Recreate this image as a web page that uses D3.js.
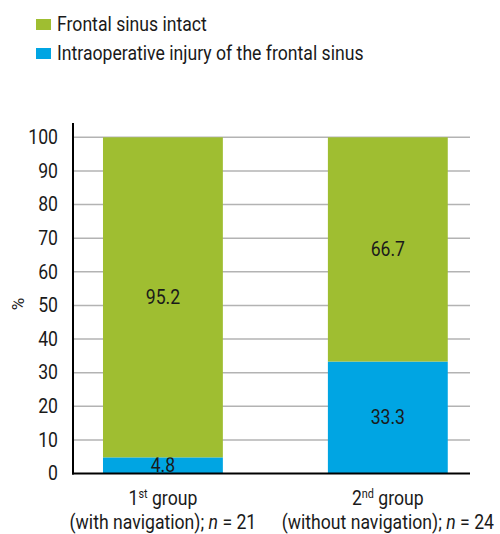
<!DOCTYPE html>
<html>
<head>
<meta charset="utf-8">
<script src="https://cdn.jsdelivr.net/npm/d3@7/dist/d3.min.js"></script>
<style>
  html, body { margin: 0; padding: 0; background: #fff; }
  svg { display: block; }
  text { font-family: "Roboto", "DejaVu Sans Condensed", sans-serif; fill: #1a1a1a; }
</style>
</head>
<body>
<svg id="chart" width="500" height="534"></svg>
<script>
const groups = ["1st", "2nd"];
const groupSub = ["(with navigation); ", "(without navigation); "];
const groupN = ["21", "24"];
const seriesNames = ["Frontal sinus intact", "Intraoperative injury of the frontal sinus"];
const intact = [95.2, 66.7];
const injury = [4.8, 33.3];
const yTicks = [0, 10, 20, 30, 40, 50, 60, 70, 80, 90, 100];
const colors = ["#9fbe31", "#00a5e3"];

const svg = d3.select("#chart");
const fontSize = 19.5;

const y = d3.scaleLinear().domain([0, 100]).range([473.5, 137.3]);
const x = d3.scaleBand().domain(groups).range([73.75, 477]).paddingInner(0.467).paddingOuter(0.13);

const axisX0 = 73, axisX1 = 470;

// measure condensing factor (reference font is a condensed face)
const probe = svg.append("text").attr("font-size", fontSize).text(seriesNames[0]);
const f = 150 / probe.node().getComputedTextLength();
probe.remove();

function condense(sel) {
  sel.each(function () {
    const t = d3.select(this);
    const tx = +t.attr("x") || 0, ty = +t.attr("y") || 0;
    t.attr("x", 0).attr("y", 0).attr("transform", `translate(${tx},${ty}) scale(${f},1)`);
  });
}

// gridlines
svg.append("g").selectAll("line").data(yTicks.filter(d => d > 0)).join("line")
  .attr("x1", axisX0).attr("x2", axisX1)
  .attr("y1", d => y(d)).attr("y2", d => y(d))
  .attr("stroke", "#b3b3b3").attr("stroke-width", 1.5);

// stacked bars
const stackData = groups.map((g, i) => ({ group: g, injury: injury[i], intact: intact[i] }));
const stack = d3.stack().keys(["injury", "intact"])(stackData);
const colorOf = { injury: colors[1], intact: colors[0] };

const layers = svg.append("g").selectAll("g").data(stack).join("g")
  .attr("fill", d => colorOf[d.key]);
layers.selectAll("rect").data(d => d).join("rect")
  .attr("x", d => x(d.data.group))
  .attr("width", x.bandwidth())
  .attr("y", d => y(d[1]))
  .attr("height", d => y(d[0]) - y(d[1]));

// value labels
layers.selectAll("text").data(d => d.map(v => ({ v, key: d.key }))).join("text")
  .attr("x", d => x(d.v.data.group) + x.bandwidth() / 2)
  .attr("y", d => y((d.v[0] + d.v[1]) / 2))
  .attr("dy", "0.35em")
  .attr("text-anchor", "middle")
  .attr("font-size", fontSize)
  .attr("fill", "#1a1a1a")
  .text(d => d3.format(".1f")(d.v.data[d.key]))
  .call(condense);

// y axis
const yAxis = d3.axisLeft(y).tickValues(yTicks).tickSize(0).tickPadding(15);
const yg = svg.append("g").attr("transform", `translate(${axisX0},0)`).call(yAxis);
yg.select(".domain").remove();
yg.selectAll("text").attr("font-size", fontSize).attr("font-family", null).attr("fill", "#1a1a1a").call(condense);
svg.append("line").attr("x1", axisX0).attr("x2", axisX0).attr("y1", 123).attr("y2", 474.5)
  .attr("stroke", "#000").attr("stroke-width", 2);
svg.append("line").attr("x1", axisX0 - 1).attr("x2", axisX1).attr("y1", 473.5).attr("y2", 473.5)
  .attr("stroke", "#000").attr("stroke-width", 2);

// y label
svg.append("text").attr("transform", "translate(24,304) rotate(-90)")
  .attr("text-anchor", "middle").attr("font-size", 17).text("%");

// x labels
groups.forEach((g, i) => {
  const cx = x(g) + x.bandwidth() / 2;
  const t1 = svg.append("text").attr("x", cx).attr("y", 505).attr("text-anchor", "middle").attr("font-size", fontSize);
  t1.append("tspan").text(g.slice(0, 1));
  t1.append("tspan").attr("dy", -7).attr("font-size", 12).text(g.slice(1));
  t1.append("tspan").attr("dy", 7).text(" group");
  t1.call(condense);
  const t2 = svg.append("text").attr("x", cx).attr("y", 529).attr("text-anchor", "middle").attr("font-size", fontSize);
  t2.append("tspan").text(groupSub[i]);
  t2.append("tspan").attr("font-style", "italic").text("n");
  t2.append("tspan").text(" = " + groupN[i]);
  t2.call(condense);
});

// legend
const legend = svg.append("g").selectAll("g").data(seriesNames).join("g")
  .attr("transform", (d, i) => `translate(36,${19 + i * 29})`);
legend.append("rect").attr("width", 15).attr("height", 11).attr("fill", (d, i) => colors[i]);
legend.append("text").attr("x", 21).attr("y", 5.5).attr("dy", "0.35em").attr("font-size", fontSize).text(d => d).call(condense);
</script>
</body>
</html>
